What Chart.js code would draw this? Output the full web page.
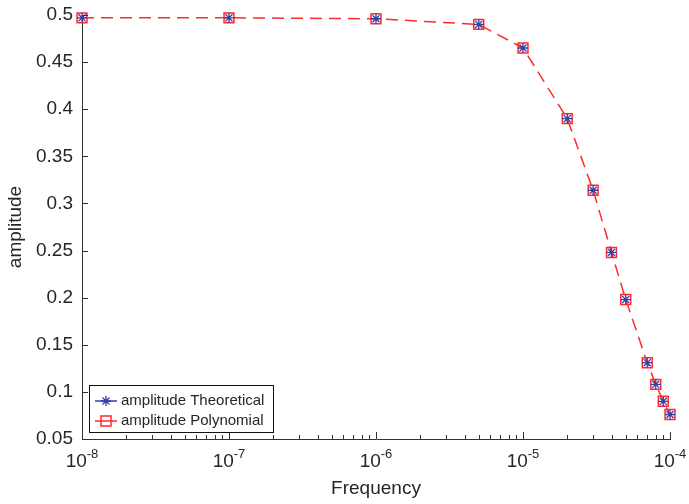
<!DOCTYPE html>
<html>
<head>
<meta charset="utf-8">
<script src="https://cdn.jsdelivr.net/npm/chart.js@4.4.1/dist/chart.umd.min.js"></script>
<style>
  html, body { margin: 0; padding: 0; background: #fff; }
</style>
</head>
<body>
<canvas id="myChart" width="689" height="504"></canvas>
<script>
let frequency = [1e-8, 1e-7, 1e-6, 5e-6, 1e-5, 2e-5, 3e-5, 4e-5, 5e-5, 7e-5, 8e-5, 9e-5, 1e-4];
let ampTheoretical = [0.497, 0.497, 0.496, 0.490, 0.465, 0.390, 0.314, 0.248, 0.198, 0.131, 0.108, 0.090, 0.076];
let ampPolynomial = [0.497, 0.497, 0.496, 0.490, 0.465, 0.390, 0.314, 0.248, 0.198, 0.131, 0.108, 0.090, 0.076];
let xTickPowers = [-8, -7, -6, -5, -4];
let yTicks = [0.05, 0.1, 0.15, 0.2, 0.25, 0.3, 0.35, 0.4, 0.45, 0.5];
let seriesNames = ['amplitude Theoretical', 'amplitude Polynomial'];

const fontFam = "'Liberation Sans', Arial, sans-serif";
const textColor = '#262626';
const axisColor = '#333333';
const blue = '#3340a8';
const red = '#ff2a2a';

function toPoints(xs, ys) {
  return xs.map((x, i) => ({ x: x, y: ys[i] }));
}

function drawStar(ctx, x, y, r) {
  let d = r * Math.SQRT1_2;
  ctx.beginPath();
  ctx.moveTo(x - r, y); ctx.lineTo(x + r, y);
  ctx.moveTo(x, y - r); ctx.lineTo(x, y + r);
  ctx.moveTo(x - d, y - d); ctx.lineTo(x + d, y + d);
  ctx.moveTo(x - d, y + d); ctx.lineTo(x + d, y - d);
  ctx.stroke();
}

// ticks inward, superscript x labels and the boxed legend
const decorations = {
  id: 'decorations',
  afterDraw(chart) {
    const ctx = chart.ctx;
    const xs = chart.scales.x;
    const ys = chart.scales.y;
    const area = chart.chartArea;
    ctx.save();
    ctx.strokeStyle = axisColor;
    ctx.lineWidth = 1;
    ctx.beginPath();
    yTicks.forEach(v => {
      let y = Math.round(ys.getPixelForValue(v)) + 0.5;
      ctx.moveTo(area.left, y);
      ctx.lineTo(area.left + 6, y);
    });
    xTickPowers.forEach(p => {
      for (let m = 1; m <= 9; m++) {
        let v = m * Math.pow(10, p);
        if (v > xs.max * 1.0001) break;
        let x = Math.round(xs.getPixelForValue(v)) + 0.5;
        let len = m === 1 ? 7 : 4;
        ctx.moveTo(x, area.bottom);
        ctx.lineTo(x, area.bottom - len);
      }
    });
    ctx.stroke();

    // x tick labels 10^p
    ctx.fillStyle = textColor;
    ctx.textBaseline = 'alphabetic';
    ctx.textAlign = 'left';
    xTickPowers.forEach(p => {
      let x = xs.getPixelForValue(Math.pow(10, p));
      ctx.font = '19px ' + fontFam;
      let wBase = ctx.measureText('10').width;
      ctx.font = '13px ' + fontFam;
      let wExp = ctx.measureText(String(p)).width;
      let x0 = x - (wBase + wExp) / 2;
      ctx.font = '19px ' + fontFam;
      ctx.fillText('10', x0, area.bottom + 28);
      ctx.font = '13px ' + fontFam;
      ctx.fillText(String(p), x0 + wBase, area.bottom + 19);
    });

    // legend
    let lx = area.left + 7, ly = area.bottom - 54;
    ctx.fillStyle = '#ffffff';
    ctx.fillRect(lx, ly, 184, 47);
    ctx.strokeStyle = '#111111';
    ctx.lineWidth = 1;
    ctx.strokeRect(lx + 0.5, ly + 0.5, 184, 47);
    let rows = [ly + 16, ly + 36];
    // theoretical
    ctx.strokeStyle = blue;
    ctx.lineWidth = 1.5;
    ctx.beginPath();
    ctx.moveTo(lx + 6, rows[0]); ctx.lineTo(lx + 28, rows[0]);
    ctx.stroke();
    ctx.lineWidth = 1.3;
    drawStar(ctx, lx + 17, rows[0], 5);
    // polynomial
    ctx.strokeStyle = red;
    ctx.lineWidth = 1.5;
    ctx.beginPath();
    ctx.moveTo(lx + 6, rows[1]); ctx.lineTo(lx + 28, rows[1]);
    ctx.stroke();
    ctx.strokeRect(lx + 12, rows[1] - 5, 10, 10);

    ctx.fillStyle = textColor;
    ctx.font = '15px ' + fontFam;
    ctx.textBaseline = 'middle';
    ctx.fillText(seriesNames[0], lx + 32, rows[0]);
    ctx.fillText(seriesNames[1], lx + 32, rows[1]);
    ctx.restore();
  }
};

const ctx = document.getElementById('myChart');

new Chart(ctx, {
  type: 'line',
  data: {
    datasets: [
      {
        label: seriesNames[0],
        data: toPoints(frequency, ampTheoretical),
        showLine: false,
        pointStyle: 'star',
        pointRadius: 5,
        pointBorderWidth: 1.3,
        pointBorderColor: blue,
        pointBackgroundColor: blue,
        borderColor: blue,
        clip: false
      },
      {
        label: seriesNames[1],
        data: toPoints(frequency, ampPolynomial),
        borderColor: red,
        borderWidth: 1.5,
        borderDash: [12, 7],
        tension: 0,
        pointStyle: 'rect',
        pointRadius: 7,
        pointBorderWidth: 1.5,
        pointBorderColor: red,
        pointBackgroundColor: 'rgba(0,0,0,0)',
        clip: false
      }
    ]
  },
  options: {
    responsive: false,
    animation: false,
    devicePixelRatio: 1,
    layout: { padding: { top: 15, right: 19, left: 0, bottom: 0 } },
    plugins: {
      legend: { display: false },
      tooltip: { enabled: false }
    },
    scales: {
      x: {
        type: 'logarithmic',
        min: 1e-8,
        max: 1e-4,
        grid: { display: false, drawTicks: false },
        border: { display: true, color: axisColor, width: 1 },
        ticks: { display: false },
        title: {
          display: true,
          text: 'Frequency',
          color: textColor,
          font: { family: fontFam, size: 19 },
          padding: { top: 0, bottom: 4 }
        },
        afterFit(scale) {
          scale.height = 65;
          scale.paddingLeft = 0;
          scale.paddingRight = 0;
        }
      },
      y: {
        type: 'linear',
        min: 0.05,
        max: 0.5,
        grid: { display: false, drawTicks: false },
        border: { display: true, color: axisColor, width: 1 },
        afterBuildTicks(scale) { scale.ticks = yTicks.map(v => ({ value: v })); },
        ticks: {
          padding: 9,
          color: textColor,
          font: { family: fontFam, size: 19 },
          callback: v => String(+v.toFixed(2))
        },
        title: {
          display: true,
          text: 'amplitude',
          color: textColor,
          font: { family: fontFam, size: 19 },
          padding: { top: 4, bottom: 0 }
        },
        afterFit(scale) {
          scale.width = 82;
          scale.paddingTop = 0;
          scale.paddingBottom = 0;
        }
      }
    }
  },
  plugins: [decorations]
});
</script>
</body>
</html>
